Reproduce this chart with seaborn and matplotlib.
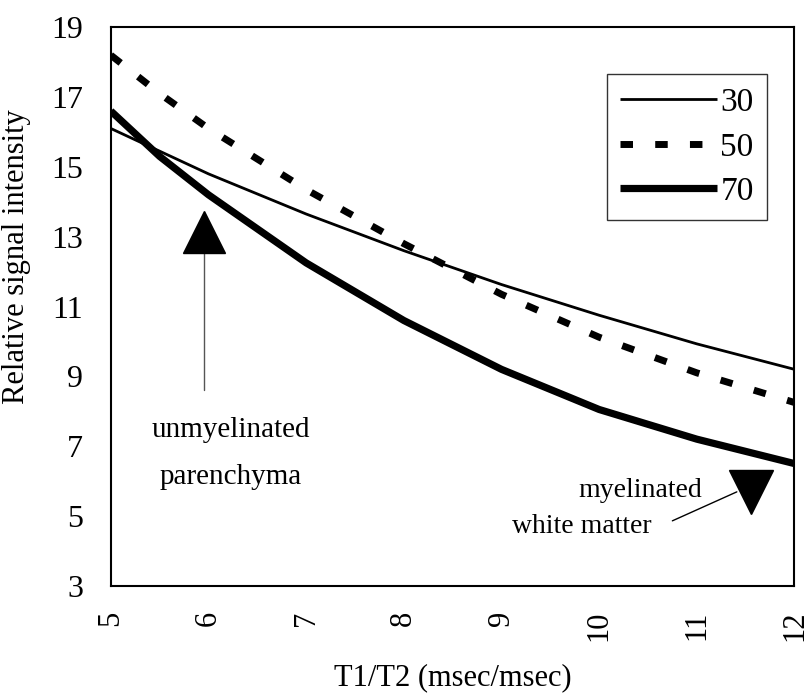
import numpy as np
import pandas as pd
import matplotlib
matplotlib.use("Agg")
import matplotlib.pyplot as plt
import seaborn as sns

# ---- data ----
t1_t2 = [5, 5.5, 6, 7, 8, 9, 10, 11, 12]
signal_30 = [16.1, 15.45, 14.8, 13.65, 12.6, 11.63, 10.75, 9.93, 9.2]
signal_50 = [18.2, 17.1, 16.1, 14.35, 12.8, 11.35, 10.12, 9.1, 8.25]
signal_70 = [16.6, 15.3, 14.2, 12.25, 10.6, 9.2, 8.05, 7.2, 6.5]
series_labels = ["30", "50", "70"]
x_ticks = [5, 6, 7, 8, 9, 10, 11, 12]
y_ticks = [3, 5, 7, 9, 11, 13, 15, 17, 19]

sns.set_theme(style="white")
plt.rcParams["font.family"] = ["Liberation Serif", "DejaVu Serif"]

fig = plt.figure(figsize=(8.09, 6.99), dpi=100)
ax = fig.add_axes([0.137, 0.162, 0.845, 0.799])

styles = {
    "30": dict(lw=2.0, dashes=None),
    "50": dict(lw=5.0, dashes=(1.8, 3.2)),
    "70": dict(lw=5.2, dashes=None),
}
for lab, vals in zip(series_labels, [signal_30, signal_50, signal_70]):
    df = pd.DataFrame({"x": t1_t2, "y": vals})
    sns.lineplot(data=df, x="x", y="y", ax=ax, color="black",
                 linewidth=styles[lab]["lw"], label=lab)
    ln = ax.lines[-1]
    ln.set_solid_capstyle("butt")
    ln.set_solid_joinstyle("round")
    if styles[lab]["dashes"] is not None:
        ln.set_dashes(styles[lab]["dashes"])
        ln.set_dash_capstyle("butt")

ax.set_xlim(5, 12)
ax.set_ylim(3, 19)
ax.set_xticks(x_ticks)
ax.set_yticks(y_ticks)
ax.set_xticklabels([str(v) for v in x_ticks], rotation=90, fontsize=22)
ax.set_yticklabels([str(v) for v in y_ticks], fontsize=23)
ax.tick_params(axis="both", direction="in", length=6, width=1, color="black",
               labelcolor="black")
ax.tick_params(axis="y", pad=20)
ax.tick_params(axis="x", pad=18)
for sp in ax.spines.values():
    sp.set_visible(True)
    sp.set_color("black")
    sp.set_linewidth(1.5)

ax.set_xlabel("T1/T2 (msec/msec)", fontsize=22, color="black", labelpad=16)
ax.set_ylabel("Relative signal intensity", fontsize=22, color="black")
ax.yaxis.set_label_coords(-0.117, 0.59)

leg = ax.legend(loc="upper right", bbox_to_anchor=(0.96, 0.916), fontsize=24,
                frameon=True, fancybox=False, edgecolor="black",
                handlelength=2.9, handletextpad=0.1, labelspacing=0.42,
                borderpad=0.4, borderaxespad=0)
leg.get_frame().set_linewidth(1.0)
for t in leg.get_texts():
    t.set_color("black")

# annotations
ax.plot([5.95, 5.95], [8.6, 12.85], color="#555555", lw=1.0)
ax.plot([5.95], [13.13], marker="^", markersize=30, color="black", lw=0)
ax.text(6.23, 7.46, "unmyelinated", ha="center", va="center", fontsize=21, color="black")
ax.text(6.23, 6.11, "parenchyma", ha="center", va="center", fontsize=21, color="black")

ax.plot([10.75, 11.41], [4.86, 5.69], color="black", lw=1.0)
ax.plot([11.56], [5.69], marker="v", markersize=32, color="black", lw=0)
ax.text(10.42, 5.74, "myelinated", ha="center", va="center", fontsize=20, color="black")
ax.text(9.82, 4.71, "white matter", ha="center", va="center", fontsize=20, color="black")

fig.savefig("out.png", dpi=100)
